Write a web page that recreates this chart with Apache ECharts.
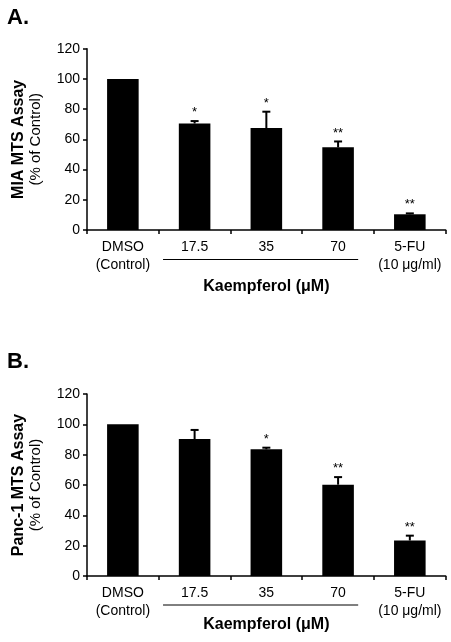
<!DOCTYPE html>
<html>
<head>
<meta charset="utf-8">
<script src="https://cdn.jsdelivr.net/npm/echarts@6/dist/echarts.min.js"></script>
<style>
html,body{margin:0;padding:0;background:#fff;}
#chart{width:451px;height:642px;}
</style>
</head>
<body>
<div id="chart"></div>
<script>
const categories = ['DMSO\n(Control)', '17.5', '35', '70', '5-FU\n(10 μg/ml)'];
const yTicks = [0, 20, 40, 60, 80, 100, 120];
const miaValues = [100, 70.5, 67.5, 54.7, 10.4];
const miaErrors = [0, 1.6, 10.8, 3.9, 0.6];
const miaStars = ['', '*', '*', '**', '**'];
const panc1Values = [100, 90.3, 83.5, 60.2, 23.4];
const panc1Errors = [0, 6.0, 1.1, 5.0, 3.2];
const panc1Stars = ['', '', '*', '**', '**'];

const FONT = '"Liberation Sans", Arial, sans-serif';
const chart = echarts.init(document.getElementById('chart'), null, {renderer: 'canvas'});

function errData(vals, errs, stars) {
  return vals.map((v, i) => [i, v, v + errs[i], stars[i]]);
}

function errRender(params, api) {
  const i = api.value(0);
  const low = api.coord([i, api.value(1)]);
  const high = api.coord([i, api.value(2)]);
  const star = api.value(3);
  const children = [];
  if (api.value(2) > api.value(1)) {
    children.push({type: 'line', shape: {x1: low[0], y1: low[1], x2: high[0], y2: high[1]}, style: {stroke: '#000', lineWidth: 2}});
    children.push({type: 'line', shape: {x1: high[0] - 4, y1: high[1], x2: high[0] + 4, y2: high[1]}, style: {stroke: '#000', lineWidth: 2}});
  }
  if (star) {
    children.push({type: 'text', x: high[0], y: high[1] - 2, style: {text: star, fill: '#000', font: '13px ' + FONT, align: 'center', verticalAlign: 'bottom'}});
  }
  return {type: 'group', children};
}

function yAxisCfg(gridIndex, line1, line2) {
  return {
    type: 'value', gridIndex, min: 0, max: 120, interval: 20,
    axisLine: {show: true, lineStyle: {color: '#000', width: 1.5}},
    axisTick: {show: true, length: 4, lineStyle: {color: '#000', width: 1.5}},
    splitLine: {show: false},
    axisLabel: {color: '#000', fontSize: 14, fontFamily: FONT, margin: 7,
      formatter: v => yTicks.includes(v) ? String(v) : ''},
    name: '{b|' + line1 + '}\n{n|' + line2 + '}',
    nameLocation: 'middle', nameRotate: 90, nameGap: 43,
    nameTextStyle: {rich: {
      b: {fontSize: 16, fontWeight: 'bold', fontFamily: FONT, color: '#000', lineHeight: 17, align: 'center'},
      n: {fontSize: 15, fontFamily: FONT, color: '#000', lineHeight: 17, align: 'center'}
    }}
  };
}

function xAxisCfg(gridIndex) {
  return {
    type: 'category', gridIndex, data: categories,
    axisLine: {show: true, lineStyle: {color: '#000', width: 1.5}},
    axisTick: {show: true, length: 4, alignWithLabel: false, lineStyle: {color: '#000', width: 1.5}},
    axisLabel: {color: '#000', fontSize: 14, fontFamily: FONT, margin: 8, lineHeight: 18, interval: 0}
  };
}

const option = {
  animation: false,
  backgroundColor: '#fff',
  grid: [
    {left: 87, top: 48.7, width: 358.7, height: 181.3},
    {left: 87, top: 394, width: 358.7, height: 182}
  ],
  xAxis: [xAxisCfg(0), xAxisCfg(1)],
  yAxis: [yAxisCfg(0, 'MIA MTS Assay', '(% of Control)'), yAxisCfg(1, 'Panc-1 MTS Assay', '(% of Control)')],
  series: [
    {type: 'bar', xAxisIndex: 0, yAxisIndex: 0, data: miaValues, barWidth: '44%', itemStyle: {color: '#000'}},
    {type: 'custom', xAxisIndex: 0, yAxisIndex: 0, data: errData(miaValues, miaErrors, miaStars), renderItem: errRender, z: 3},
    {type: 'bar', xAxisIndex: 1, yAxisIndex: 1, data: panc1Values, barWidth: '44%', itemStyle: {color: '#000'}},
    {type: 'custom', xAxisIndex: 1, yAxisIndex: 1, data: errData(panc1Values, panc1Errors, panc1Stars), renderItem: errRender, z: 3}
  ]
};
chart.setOption(option);

function annotations(gridIdx, lineY, textY) {
  const a = chart.convertToPixel({xAxisIndex: gridIdx}, 1);
  const b = chart.convertToPixel({xAxisIndex: gridIdx}, 3);
  const step = (b - a) / 2;
  return [
    {type: 'line', shape: {x1: a - step * 0.44, y1: lineY, x2: b + step * 0.28, y2: lineY}, style: {stroke: '#000', lineWidth: 1}},
    {type: 'text', x: (a + b) / 2, y: textY, style: {text: 'Kaempferol (μM)', font: 'bold 16px ' + FONT, fill: '#000', align: 'center', verticalAlign: 'middle'}}
  ];
}

chart.setOption({
  graphic: [
    {type: 'text', left: 7, top: 7, style: {text: 'A.', font: 'bold 22px ' + FONT, fill: '#000'}},
    {type: 'text', left: 7, top: 351, style: {text: 'B.', font: 'bold 22px ' + FONT, fill: '#000'}},
    ...annotations(0, 259.5, 287),
    ...annotations(1, 605, 625)
  ]
});
</script>
</body>
</html>
